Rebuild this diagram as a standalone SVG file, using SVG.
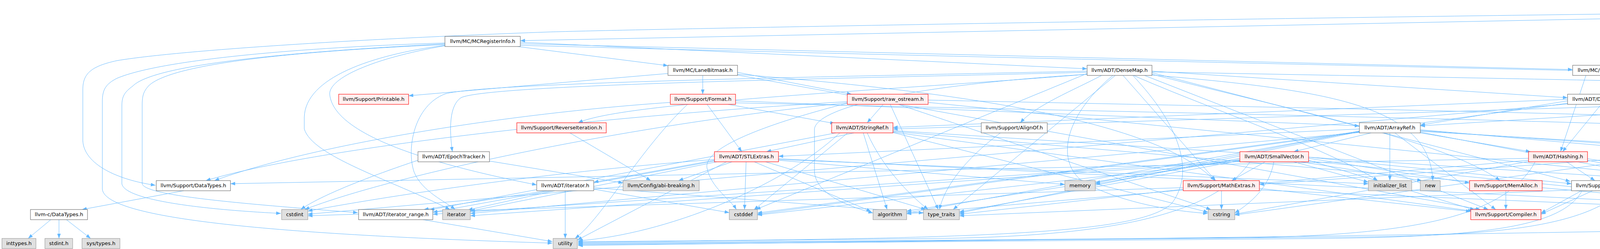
<svg xmlns="http://www.w3.org/2000/svg" width="5669" height="637" viewBox="0 0 5669 637">
<style>
.e{fill:none;stroke:#63b8ff;stroke-width:1;marker-end:url(#ah)}
.w{fill:#ffffff;stroke:#666666;stroke-width:1.1}
.r{fill:#fff0f0;stroke:#ff0000;stroke-width:1.1}
.g{fill:#e0e0e0;stroke:#999999;stroke-width:1.1}
.k{fill:#999999;stroke:#666666;stroke-width:1.1}
text{font-family:"DejaVu Sans","Liberation Sans",sans-serif;font-size:13px;fill:#000000}
.t{text-anchor:middle}
</style>
<defs>
<marker id="ah" markerUnits="userSpaceOnUse" markerWidth="13" markerHeight="9" refX="12" refY="4.5" orient="auto">
<path d="M0,0 L12,4.5 L0,9 z" fill="#63b8ff"/>
</marker>
</defs>
<rect width="5669" height="637" fill="#ffffff"/>
<g id="connectors">
<path class="e" d="M5002,30 L1332,104"/>
<path class="e" d="M5002,26 C3500,40 1600,75 1400,82 C900,100 450,130 300,155 C230,170 212,190 212,230 L212,360 C215,420 300,460 398,474"/>
<path class="e" d="M5075,46 L4800,241"/>
<path class="e" d="M5118,46 L5155,93"/>
<path class="e" d="M5165,46 L5327,93"/>
<path class="e" d="M5202,43 L5498,93"/>
<path class="e" d="M1325,119 L1710,168"/>
<path class="e" d="M1332,108 L2783,176"/>
<path class="e" d="M1332,112 L4026,178"/>
<path class="e" d="M1332,116 C3000,160 4600,190 4950,205 C5130,225 5155,300 5155,360 C5155,470 5030,550 4778,552"/>
<path class="e" d="M1139,117 C950,150 844,200 844,240 C850,320 1000,400 1374,473"/>
<path class="e" d="M1139,114 C900,125 450,150 380,220 C367,235 364,245 364,270 L364,470 C370,500 600,520 916,544"/>
<path class="e" d="M1139,112 C800,130 400,160 340,220 C320,235 312,245 312,270 L312,470 C318,510 500,535 719,546"/>
<path class="e" d="M1139,110 C800,120 420,150 300,200 C270,215 262,230 262,260 L262,484 C270,560 700,600 1414,622"/>
<path class="e" d="M1139,116 C950,140 781,200 779,300 L779,330 C800,400 1000,460 1152,536"/>
<path class="e" d="M1710,188 L1046,245"/>
<path class="e" d="M1799,193 L1799,241"/>
<path class="e" d="M1888,185 L2180,241"/>
<path class="e" d="M1888,190 C2400,230 2950,300 3110,462"/>
<path class="e" d="M1888,192 L3790,536"/>
<path class="e" d="M2949,182 L4013,250"/>
<path class="e" d="M2783,185 C2200,200 1250,215 1180,250 C1150,270 1150,330 1158,388"/>
<path class="e" d="M2783,182 C2200,195 1250,210 1140,240 C1060,270 1040,380 1060,440 C1080,490 1140,515 1165,536"/>
<path class="e" d="M2820,193 C2750,230 2650,270 2612,314"/>
<path class="e" d="M2930,193 L3810,536"/>
<path class="e" d="M2875,193 L3112,462"/>
<path class="e" d="M2949,190 C3300,280 3700,360 3840,462"/>
<path class="e" d="M2783,190 C2300,230 1600,260 1480,314"/>
<path class="e" d="M2949,186 L4020,464"/>
<path class="e" d="M2783,190 C2300,220 2090,280 2085,330 L2085,440 C2090,500 2180,530 2235,545"/>
<path class="e" d="M2949,184 C3800,200 4700,215 4960,230 C5100,250 5113,320 5113,360 C5113,460 5000,540 4778,549"/>
<path class="e" d="M2783,188 L1935,536"/>
<path class="e" d="M2849,193 C2720,300 2700,420 2780,470 C2880,520 3000,540 3092,546"/>
<path class="e" d="M2902,193 C3100,280 3400,380 3527,462"/>
<path class="e" d="M2949,192 C3400,230 3660,270 3668,462"/>
<path class="e" d="M2855,193 L2440,536"/>
<path class="e" d="M2900,193 C3020,320 3060,440 3000,520 C2920,600 2500,612 1480,618"/>
<path class="e" d="M4110,193 L4110,241"/>
<path class="e" d="M4060,193 L3995,388"/>
<path class="e" d="M4193,184 C4600,200 4950,225 5030,250 C5130,290 5140,400 5100,460 C5040,530 4900,545 4778,546"/>
<path class="e" d="M1883,258 L3480,322"/>
<path class="e" d="M1810,267 L1899,388"/>
<path class="e" d="M1864,267 L2137,316"/>
<path class="e" d="M1716,262 C1300,290 800,370 549,462"/>
<path class="e" d="M1883,263 C3500,300 4700,320 4880,360 C4950,400 4950,480 4880,515 C4840,530 4800,538 4778,538"/>
<path class="e" d="M1760,267 C1640,380 1540,560 1472,610"/>
<path class="e" d="M2261,267 L2220,314"/>
<path class="e" d="M2169,260 C1500,300 800,380 527,462"/>
<path class="e" d="M2376,256 C3500,280 4800,300 4960,340 C5050,380 5040,470 4950,510 C4880,535 4800,541 4778,541"/>
<path class="e" d="M2169,264 C1950,320 1800,380 1810,430 C1820,480 1870,510 1885,536"/>
<path class="e" d="M2169,263 C1600,320 1000,450 780,536"/>
<path class="e" d="M2300,267 L3100,536"/>
<path class="e" d="M2376,262 L4441,470"/>
<path class="e" d="M2279,267 L2402,536"/>
<path class="e" d="M4115,267 C4140,320 4190,360 4222,388"/>
<path class="e" d="M4131,267 L4217,314"/>
<path class="e" d="M4013,258 L3636,320"/>
<path class="e" d="M4099,267 L4000,388"/>
<path class="e" d="M4013,254 L2286,326"/>
<path class="e" d="M4206,260 C4600,280 4960,300 4990,350 C5020,420 5000,500 4900,530 C4850,542 4800,544 4778,544"/>
<path class="e" d="M4013,264 L1939,545"/>
<path class="e" d="M4013,266 L788,548"/>
<path class="e" d="M4206,262 C4700,285 4990,320 5000,420 C5010,520 4900,570 4500,585 C3500,605 2500,615 1480,628"/>
<path class="e" d="M4678,258 L3636,322"/>
<path class="e" d="M4678,255 L2286,330"/>
<path class="e" d="M4783,267 C4790,330 4780,400 4700,435 C4620,460 4540,468 4503,471"/>
<path class="e" d="M4774,267 L4724,388"/>
<path class="e" d="M1459,340 L1666,462"/>
<path class="e" d="M2186,340 L1962,388"/>
<path class="e" d="M2140,340 L1100,537"/>
<path class="e" d="M2286,338 L3770,540"/>
<path class="e" d="M2210,340 L2271,536"/>
<path class="e" d="M2286,336 L4705,546"/>
<path class="e" d="M2170,340 L1930,537"/>
<path class="e" d="M2286,339 L3093,543"/>
<path class="e" d="M2286,334 L4441,472"/>
<path class="e" d="M2220,340 C2260,430 2330,500 2376,536"/>
<path class="e" d="M2150,340 C2000,480 1700,600 1480,616"/>
<path class="e" d="M2561,340 C2480,400 2420,470 2405,536"/>
<path class="e" d="M3631,339 L3918,388"/>
<path class="e" d="M3636,332 L4398,398"/>
<path class="e" d="M3510,340 L3312,388"/>
<path class="e" d="M3480,330 L1993,400"/>
<path class="e" d="M3571,340 L3829,536"/>
<path class="e" d="M3480,336 L2321,545"/>
<path class="e" d="M3636,334 L4555,398"/>
<path class="e" d="M3636,338 L4705,540"/>
<path class="e" d="M3480,338 L1939,548"/>
<path class="e" d="M3558,340 L3558,462"/>
<path class="e" d="M3480,339 L1204,546"/>
<path class="e" d="M3480,335 L2804,468"/>
<path class="e" d="M3480,337 L2456,545"/>
<path class="e" d="M3636,336 L4686,398"/>
<path class="e" d="M4241,340 L4252,388"/>
<path class="e" d="M1253,412 L1595,468"/>
<path class="e" d="M1070,410 C950,450 820,500 770,536"/>
<path class="e" d="M1829,410 L1520,466"/>
<path class="e" d="M1829,412 L1108,543"/>
<path class="e" d="M1874,414 L1737,462"/>
<path class="e" d="M1931,414 L2230,541"/>
<path class="e" d="M1993,406 L4705,541"/>
<path class="e" d="M1910,414 L1906,536"/>
<path class="e" d="M1829,408 C1400,440 1000,500 788,540"/>
<path class="e" d="M1993,408 L3503,470"/>
<path class="e" d="M1835,414 L1204,540"/>
<path class="e" d="M1993,410 L2726,472"/>
<path class="e" d="M1960,414 L2370,536"/>
<path class="e" d="M1860,414 L1478,614"/>
<path class="e" d="M3174,410 L1108,548"/>
<path class="e" d="M3350,410 L3775,537"/>
<path class="e" d="M3239,414 L3153,462"/>
<path class="e" d="M3350,405 L3762,468"/>
<path class="e" d="M3350,402 L4023,470"/>
<path class="e" d="M3174,408 L2321,540"/>
<path class="e" d="M3350,412 L4705,544"/>
<path class="e" d="M3174,412 L1939,550"/>
<path class="e" d="M3261,414 C3250,480 3200,520 3161,545"/>
<path class="e" d="M3312,414 L3503,466"/>
<path class="e" d="M3174,413 L1204,552"/>
<path class="e" d="M3174,405 L2804,471"/>
<path class="e" d="M3330,414 L3640,462"/>
<path class="e" d="M3174,411 L2456,542"/>
<path class="e" d="M3200,414 C3100,560 2800,605 2400,610 L1480,620"/>
<path class="e" d="M3913,405 L590,470"/>
<path class="e" d="M4010,414 L4083,462"/>
<path class="e" d="M3913,410 L2321,547"/>
<path class="e" d="M4064,410 L4710,537"/>
<path class="e" d="M3913,413 L3161,548"/>
<path class="e" d="M4064,406 L4441,466"/>
<path class="e" d="M3930,414 C3850,560 3600,600 3200,608 L1480,622"/>
<path class="e" d="M4190,410 L3945,545"/>
<path class="e" d="M4190,403 L3224,472"/>
<path class="e" d="M4322,414 L4721,537"/>
<path class="e" d="M4190,408 L3161,550"/>
<path class="e" d="M4290,414 L4446,462"/>
<path class="e" d="M4200,414 C4150,570 3900,600 3500,606 L1480,624"/>
<path class="e" d="M3224,482 L3765,541"/>
<path class="e" d="M3224,486 L4705,548"/>
<path class="e" d="M3029,480 L788,552"/>
<path class="e" d="M3127,488 L3127,536"/>
<path class="e" d="M3029,484 L2456,548"/>
<path class="e" d="M3855,488 L3855,536"/>
<path class="e" d="M4077,488 L3945,548"/>
<path class="e" d="M4023,486 L2456,552"/>
<path class="e" d="M4050,488 C4000,580 3800,605 3400,610 L1480,626"/>
<path class="e" d="M1400,488 L1085,536"/>
<path class="e" d="M1520,484 L1867,544"/>
<path class="e" d="M1420,488 L1198,537"/>
<path class="e" d="M1520,480 L2364,545"/>
<path class="e" d="M1447,488 L1447,610"/>
<path class="e" d="M1083,562 L1414,618"/>
<path class="e" d="M470,488 L210,536"/>
<path class="e" d="M130,562 L72,610"/>
<path class="e" d="M151,562 L151,610"/>
<path class="e" d="M170,562 L232,610"/>
</g>
<g id="nodes">
<g id="n_root"><rect class="k" x="5002" y="5" width="200" height="41"/><text x="5012" y="21">lib/Target/Lanai/MCTarget</text><text x="5012" y="37">Desc/LanaiMCTargetDesc.h</text></g>
<g id="n_mri"><rect class="w" x="1139" y="93" width="193" height="26"/><text class="t" x="1235.5" y="110">llvm/MC/MCRegisterInfo.h</text></g>
<g id="n_lgr"><rect class="g" x="5074" y="93" width="186" height="26"/><text class="t" x="5167" y="110">LanaiGenRegisterInfo.inc</text></g>
<g id="n_lgi"><rect class="g" x="5284" y="93" width="160" height="26"/><text class="t" x="5364" y="110">LanaiGenInstrInfo.inc</text></g>
<g id="n_lgs"><rect class="g" x="5468" y="93" width="196" height="26"/><text class="t" x="5566" y="110">LanaiGenSubtargetInfo.inc</text></g>
<g id="n_lbm"><rect class="w" x="1710" y="167" width="178" height="26"/><text class="t" x="1799" y="184">llvm/MC/LaneBitmask.h</text></g>
<g id="n_dm"><rect class="w" x="2783" y="167" width="166" height="26"/><text class="t" x="2866" y="184">llvm/ADT/DenseMap.h</text></g>
<g id="n_mcr"><rect class="w" x="4026" y="167" width="167" height="26"/><text class="t" x="4109.5" y="184">llvm/MC/MCRegister.h</text></g>
<g id="n_prt"><rect class="r" x="867" y="241" width="179" height="26"/><text class="t" x="956.5" y="258">llvm/Support/Printable.h</text></g>
<g id="n_fmt"><rect class="r" x="1716" y="241" width="167" height="26"/><text class="t" x="1799.5" y="258">llvm/Support/Format.h</text></g>
<g id="n_ros"><rect class="r" x="2169" y="241" width="207" height="26"/><text class="t" x="2272.5" y="258">llvm/Support/raw_ostream.h</text></g>
<g id="n_dmi"><rect class="w" x="4013" y="241" width="193" height="26"/><text class="t" x="4109.5" y="258">llvm/ADT/DenseMapInfo.h</text></g>
<g id="n_mto"><rect class="w" x="4678" y="241" width="203" height="26"/><text class="t" x="4779.5" y="258">llvm/MC/MCTargetOptions.h</text></g>
<g id="n_rev"><rect class="r" x="1323" y="314" width="229" height="26"/><text class="t" x="1437.5" y="331">llvm/Support/ReverseIteration.h</text></g>
<g id="n_sr"><rect class="r" x="2129" y="314" width="157" height="26"/><text class="t" x="2207.5" y="331">llvm/ADT/StringRef.h</text></g>
<g id="n_ao"><rect class="w" x="2512" y="314" width="169" height="26"/><text class="t" x="2596.5" y="331">llvm/Support/AlignOf.h</text></g>
<g id="n_ar"><rect class="w" x="3480" y="314" width="156" height="26"/><text class="t" x="3558" y="331">llvm/ADT/ArrayRef.h</text></g>
<g id="n_aps"><rect class="w" x="4167" y="314" width="142" height="26"/><text class="t" x="4238" y="331">llvm/ADT/APSInt.h</text></g>
<g id="n_ept"><rect class="w" x="1070" y="388" width="183" height="26"/><text class="t" x="1161.5" y="405">llvm/ADT/EpochTracker.h</text></g>
<g id="n_stl"><rect class="r" x="1829" y="388" width="164" height="26"/><text class="t" x="1911" y="405">llvm/ADT/STLExtras.h</text></g>
<g id="n_sv"><rect class="r" x="3174" y="388" width="176" height="26"/><text class="t" x="3262" y="405">llvm/ADT/SmallVector.h</text></g>
<g id="n_hsh"><rect class="r" x="3913" y="388" width="151" height="26"/><text class="t" x="3988.5" y="405">llvm/ADT/Hashing.h</text></g>
<g id="n_api"><rect class="r" x="4190" y="388" width="132" height="26"/><text class="t" x="4256" y="405">llvm/ADT/APInt.h</text></g>
<g id="n_non"><rect class="w" x="4398" y="388" width="133" height="26"/><text class="t" x="4464.5" y="405">llvm/ADT/None.h</text></g>
<g id="n_arr"><rect class="g" x="4555" y="388" width="57" height="26"/><text class="t" x="4583.5" y="405">array</text></g>
<g id="n_vec"><rect class="g" x="4686" y="388" width="63" height="26"/><text class="t" x="4717.5" y="405">vector</text></g>
<g id="n_dt"><rect class="w" x="400" y="462" width="190" height="26"/><text class="t" x="495" y="479">llvm/Support/DataTypes.h</text></g>
<g id="n_ith"><rect class="w" x="1374" y="462" width="146" height="26"/><text class="t" x="1447" y="479">llvm/ADT/iterator.h</text></g>
<g id="n_abi"><rect class="g" x="1595" y="462" width="195" height="26"/><text class="t" x="1692.5" y="479">llvm/Config/abi-breaking.h</text></g>
<g id="n_mem"><rect class="g" x="2726" y="462" width="78" height="26"/><text class="t" x="2765" y="479">memory</text></g>
<g id="n_mth"><rect class="r" x="3029" y="462" width="195" height="26"/><text class="t" x="3126.5" y="479">llvm/Support/MathExtras.h</text></g>
<g id="n_il"><rect class="g" x="3503" y="462" width="111" height="26"/><text class="t" x="3558.5" y="479">initializer_list</text></g>
<g id="n_new"><rect class="g" x="3636" y="462" width="51" height="26"/><text class="t" x="3661.5" y="479">new</text></g>
<g id="n_mal"><rect class="r" x="3762" y="462" width="186" height="26"/><text class="t" x="3855" y="479">llvm/Support/MemAlloc.h</text></g>
<g id="n_stt"><rect class="w" x="4023" y="462" width="192" height="26"/><text class="t" x="4119" y="479">llvm/Support/type_traits.h</text></g>
<g id="n_str"><rect class="g" x="4441" y="462" width="60" height="26"/><text class="t" x="4471" y="479">string</text></g>
<g id="n_cdt"><rect class="w" x="78" y="536" width="146" height="26"/><text class="t" x="151" y="553">llvm-c/DataTypes.h</text></g>
<g id="n_csi"><rect class="g" x="721" y="536" width="67" height="26"/><text class="t" x="754.5" y="553">cstdint</text></g>
<g id="n_itr"><rect class="w" x="918" y="536" width="190" height="26"/><text class="t" x="1013" y="553">llvm/ADT/iterator_range.h</text></g>
<g id="n_it"><rect class="g" x="1133" y="536" width="71" height="26"/><text class="t" x="1168.5" y="553">iterator</text></g>
<g id="n_csd"><rect class="g" x="1867" y="536" width="72" height="26"/><text class="t" x="1903" y="553">cstddef</text></g>
<g id="n_alg"><rect class="g" x="2235" y="536" width="86" height="26"/><text class="t" x="2278" y="553">algorithm</text></g>
<g id="n_tt"><rect class="g" x="2364" y="536" width="92" height="26"/><text class="t" x="2410" y="553">type_traits</text></g>
<g id="n_cstr"><rect class="g" x="3093" y="536" width="68" height="26"/><text class="t" x="3127" y="553">cstring</text></g>
<g id="n_cmp"><rect class="r" x="3765" y="536" width="180" height="26"/><text class="t" x="3855" y="553">llvm/Support/Compiler.h</text></g>
<g id="n_cas"><rect class="g" x="4705" y="536" width="71" height="26"/><text class="t" x="4740.5" y="553">cassert</text></g>
<g id="n_int"><rect class="g" x="5" y="610" width="87" height="26"/><text class="t" x="48.5" y="627">inttypes.h</text></g>
<g id="n_sint"><rect class="g" x="115" y="610" width="71" height="26"/><text class="t" x="150.5" y="627">stdint.h</text></g>
<g id="n_sys"><rect class="g" x="210" y="610" width="97" height="26"/><text class="t" x="258.5" y="627">sys/types.h</text></g>
<g id="n_utl"><rect class="g" x="1416" y="610" width="62" height="26"/><text class="t" x="1447" y="627">utility</text></g>
</g>
</svg>
